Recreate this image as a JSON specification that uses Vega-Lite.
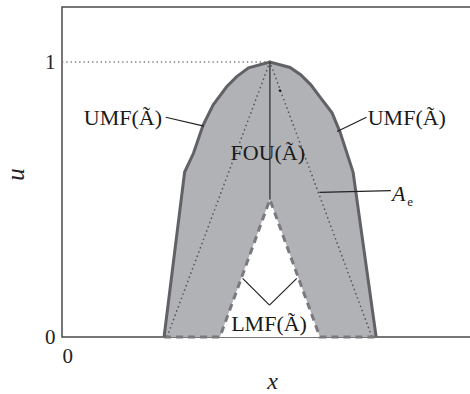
{
  "$schema": "https://vega.github.io/schema/vega-lite/v6.json",
  "width": 420,
  "height": 330,
  "autosize": "none",
  "padding": {"left": 62, "top": 7, "right": 0, "bottom": 57},
  "background": "white",
  "config": {
    "view": {"stroke": "#4a4a4a", "strokeWidth": 1.5},
    "font": "Liberation Serif"
  },
  "datasets": {
    "umf": [
      {"x": 2.43, "u": 0}, {"x": 2.92, "u": 0.6}, {"x": 3.13, "u": 0.668}, {"x": 3.36, "u": 0.771},
      {"x": 3.6, "u": 0.844}, {"x": 3.92, "u": 0.91}, {"x": 4.16, "u": 0.947}, {"x": 4.44, "u": 0.979},
      {"x": 4.95, "u": 1.0}, {"x": 5.43, "u": 0.98}, {"x": 5.69, "u": 0.953}, {"x": 5.93, "u": 0.916},
      {"x": 6.14, "u": 0.873}, {"x": 6.43, "u": 0.815}, {"x": 6.62, "u": 0.745}, {"x": 6.93, "u": 0.6},
      {"x": 7.48, "u": 0}
    ],
    "lmf": [
      {"x": 2.43, "u": 0}, {"x": 3.76, "u": 0}, {"x": 4.95, "u": 0.5}, {"x": 6.14, "u": 0}, {"x": 7.48, "u": 0}
    ],
    "ae": [
      {"x": 2.5, "u": 0}, {"x": 4.95, "u": 1.0}, {"x": 7.38, "u": 0}
    ],
    "dotref": [
      {"x": 0, "u": 1, "x2": 4.95, "u2": 1}
    ],
    "vert": [
      {"x": 4.95, "u": 1, "x2": 4.95, "u2": 0.5}
    ],
    "leaders": [
      {"x": 2.47, "u": 0.799, "x2": 3.38, "u2": 0.767},
      {"x": 7.25, "u": 0.799, "x2": 6.55, "u2": 0.747},
      {"x": 7.83, "u": 0.532, "x2": 6.13, "u2": 0.526},
      {"x": 4.30, "u": 0.213, "x2": 4.94, "u2": 0.116},
      {"x": 4.94, "u": 0.116, "x2": 5.59, "u2": 0.213}
    ],
    "labels": [
      {"x": 1.45, "u": 0.796, "t": "UMF(Ã)"},
      {"x": 8.21, "u": 0.796, "t": "UMF(Ã)"},
      {"x": 4.90, "u": 0.669, "t": "FOU(Ã)"},
      {"x": 4.93, "u": 0.047, "t": "LMF(Ã)"}
    ],
    "alabel": [{"x": 7.86, "u": 0.52, "t": "A"}],
    "esub": [{"x": 8.22, "u": 0.49, "t": "e"}],
    "dot": [{"x": 5.19, "u": 0.896}]
  },
  "encoding": {
    "x": {
      "field": "x", "type": "quantitative",
      "scale": {"domain": [0, 10], "nice": false, "zero": false},
      "axis": {
        "values": [0], "format": "d", "domain": false, "ticks": false, "grid": false,
        "labelFont": "Liberation Serif", "labelFontSize": 21, "labelColor": "#222", "labelPadding": 8,
        "title": "x", "titleFont": "Liberation Serif", "titleFontStyle": "italic", "titleFontWeight": "normal",
        "titleFontSize": 24, "titleColor": "#222", "titleY": 44, "titleBaseline": "middle"
      }
    },
    "y": {
      "field": "u", "type": "quantitative",
      "scale": {"domain": [0, 1.2], "nice": false, "zero": false},
      "axis": {
        "values": [0, 1], "format": "d", "domain": false, "ticks": false, "grid": false,
        "labelFont": "Liberation Serif", "labelFontSize": 21, "labelColor": "#222", "labelPadding": 7,
        "title": "u", "titleFont": "Liberation Serif", "titleFontStyle": "italic", "titleFontWeight": "normal",
        "titleFontSize": 25, "titleColor": "#222", "titleX": -47, "titleY": 167, "titleBaseline": "middle"
      }
    }
  },
  "layer": [
    {"data": {"name": "umf"}, "mark": {"type": "area", "color": "#b1b2b6", "opacity": 1}, "encoding": {}},
    {"data": {"name": "lmf"}, "mark": {"type": "area", "color": "white", "opacity": 1}, "encoding": {}},
    {"data": {"name": "dotref"}, "mark": {"type": "rule", "color": "#777", "strokeWidth": 1.3, "strokeDash": [1.3, 3]},
      "encoding": {"x2": {"field": "x2"}, "y2": {"field": "u2"}}},
    {"data": {"name": "ae"}, "mark": {"type": "line", "color": "#555", "strokeWidth": 1.5, "strokeDash": [1.5, 3]}, "encoding": {}},
    {"data": {"name": "lmf"}, "mark": {"type": "line", "color": "#7a7a7e", "strokeWidth": 3, "strokeDash": [7, 5]}, "encoding": {}},
    {"data": {"name": "umf"}, "mark": {"type": "line", "color": "#626266", "strokeWidth": 3}, "encoding": {}},
    {"data": {"name": "vert"}, "mark": {"type": "rule", "color": "#333", "strokeWidth": 1.3},
      "encoding": {"x2": {"field": "x2"}, "y2": {"field": "u2"}}},
    {"data": {"name": "leaders"}, "mark": {"type": "rule", "color": "#222", "strokeWidth": 1.2},
      "encoding": {"x2": {"field": "x2"}, "y2": {"field": "u2"}}},
    {"data": {"name": "dot"}, "mark": {"type": "point", "filled": true, "color": "#111", "size": 6, "opacity": 1}, "encoding": {}},
    {"data": {"name": "labels"}, "mark": {"type": "text", "font": "Liberation Serif", "fontSize": 22, "color": "#1a1a1a", "align": "center", "baseline": "middle"},
      "encoding": {"text": {"field": "t"}}},
    {"data": {"name": "alabel"}, "mark": {"type": "text", "font": "Liberation Serif", "fontStyle": "italic", "fontSize": 22, "color": "#1a1a1a", "align": "left", "baseline": "middle"},
      "encoding": {"text": {"field": "t"}}},
    {"data": {"name": "esub"}, "mark": {"type": "text", "font": "Liberation Serif", "fontSize": 13, "color": "#1a1a1a", "align": "left", "baseline": "middle"},
      "encoding": {"text": {"field": "t"}}}
  ]
}
